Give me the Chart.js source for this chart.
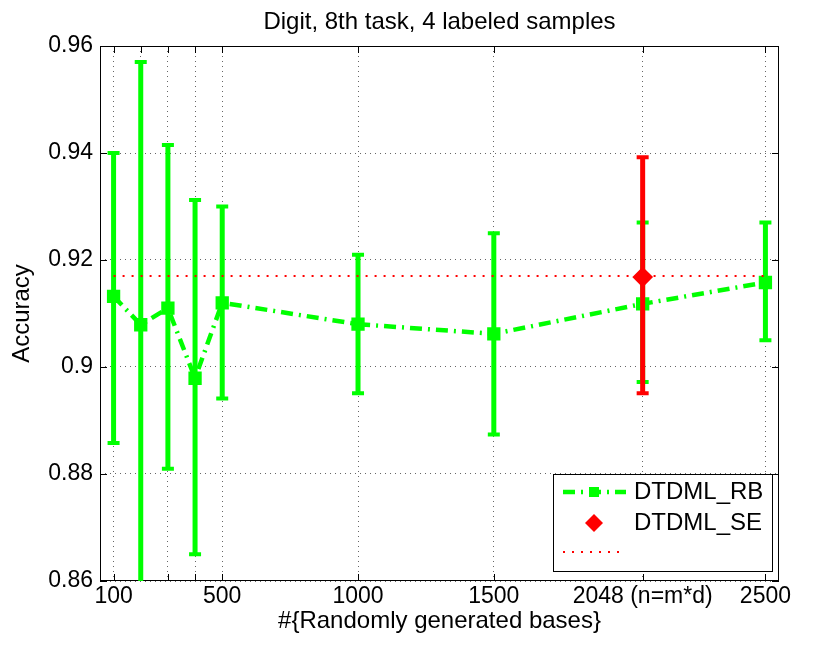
<!DOCTYPE html>
<html>
<head>
<meta charset="utf-8">
<title>Digit, 8th task, 4 labeled samples</title>
<script src="https://cdn.jsdelivr.net/npm/chart.js@4.4.0/dist/chart.umd.min.js"></script>
<style>
  html, body { margin: 0; padding: 0; background: #fff; }
  canvas { display: block; }
</style>
</head>
<body>
<canvas id="accChart" width="839" height="653"></canvas>
<script>
// values
const basesCount = [100, 200, 300, 400, 500, 1000, 1500, 2048, 2500];
const rbMean  = [0.9132, 0.9079, 0.9110, 0.8979, 0.9120, 0.9080, 0.9062, 0.9118, 0.9158];
const rbUpper = [0.9400, 0.9570, 0.9415, 0.9312, 0.9300, 0.9210, 0.9250, 0.9270, 0.9270];
const rbLower = [0.8858, 0.8590, 0.8810, 0.8650, 0.8941, 0.8951, 0.8874, 0.8972, 0.9050];

const seBases = [2048];
const seMean  = [0.9168];
const seUpper = [0.9392];
const seLower = [0.8951];

const refLevel = 0.917;

const xTickValues = [100, 200, 300, 400, 500, 1000, 1500, 2048, 2500];
const xTickLabels = ['100', '', '', '', '500', '1000', '1500', '2048 (n=m*d)', '2500'];
const yTickValues = [0.86, 0.88, 0.9, 0.92, 0.94, 0.96];
const yTickLabels = ['0.86', '0.88', '0.9', '0.92', '0.94', '0.96'];

Chart.defaults.font.family = '"Liberation Sans", Arial, Helvetica, sans-serif';
Chart.defaults.color = '#000';

// vertical error bars with caps, drawn just under their own dataset
const errorBars = {
  id: 'errorBars',
  beforeDatasetDraw(chart, args) {
    const ds = chart.data.datasets[args.index];
    if (!ds.errLow) return;
    const { ctx, chartArea, scales: { x, y } } = chart;
    ctx.save();
    ctx.beginPath();
    ctx.rect(chartArea.left, chartArea.top, chartArea.width, chartArea.height);
    ctx.clip();
    ctx.strokeStyle = ds.barColor;
    ds.data.forEach((p, i) => {
      const px = x.getPixelForValue(p.x);
      const top = y.getPixelForValue(ds.errHigh[i]);
      const bot = y.getPixelForValue(ds.errLow[i]);
      ctx.lineWidth = 5;
      ctx.beginPath();
      ctx.moveTo(px, top);
      ctx.lineTo(px, bot);
      ctx.stroke();
      ctx.lineWidth = 4;
      ctx.beginPath();
      ctx.moveTo(px - 6, top); ctx.lineTo(px + 6, top);
      ctx.moveTo(px - 6, bot); ctx.lineTo(px + 6, bot);
      ctx.stroke();
    });
    ctx.restore();
  }
};

// matlab style box with inward ticks
const axesBox = {
  id: 'axesBox',
  beforeDatasetsDraw(chart) {
    const { ctx, chartArea: a, scales: { x, y } } = chart;
    const len = 7;
    ctx.save();
    ctx.strokeStyle = '#000';
    ctx.lineWidth = 1;
    ctx.strokeRect(a.left + 0.5, a.top + 0.5, a.width - 1, a.height - 1);
    ctx.beginPath();
    x.ticks.forEach(t => {
      const px = Math.round(x.getPixelForValue(t.value)) + 0.5;
      ctx.moveTo(px, a.bottom); ctx.lineTo(px, a.bottom - len);
      ctx.moveTo(px, a.top); ctx.lineTo(px, a.top + len);
    });
    y.ticks.forEach(t => {
      const py = Math.round(y.getPixelForValue(t.value)) + 0.5;
      ctx.moveTo(a.left, py); ctx.lineTo(a.left + len, py);
      ctx.moveTo(a.right, py); ctx.lineTo(a.right - len, py);
    });
    ctx.stroke();
    ctx.restore();
  }
};

const boxLegend = {
  id: 'boxLegend',
  afterDraw(chart) {
    const { ctx, chartArea } = chart;
    const w = 219, h = 97;
    const left = chartArea.right - 7 - w;
    const top = chartArea.bottom - 10 - h;
    ctx.save();
    ctx.fillStyle = '#fff';
    ctx.fillRect(left, top, w, h);
    ctx.strokeStyle = '#000';
    ctx.lineWidth = 1;
    ctx.strokeRect(left + 0.5, top + 0.5, w, h);

    const x0 = left + 10, x1 = left + 73, xm = left + 41;
    const rows = [top + 18, top + 49, top + 78];

    // DTDML_RB
    ctx.strokeStyle = '#00ff00';
    ctx.lineWidth = 4.5;
    ctx.setLineDash([12, 6, 2, 6]);
    ctx.beginPath();
    ctx.moveTo(x0, rows[0]); ctx.lineTo(x1, rows[0]);
    ctx.stroke();
    ctx.setLineDash([]);
    ctx.fillStyle = '#00ff00';
    ctx.fillRect(xm - 5, rows[0] - 5, 10, 10);

    // DTDML_SE
    ctx.fillStyle = '#ff0000';
    ctx.beginPath();
    ctx.moveTo(xm - 9, rows[1]); ctx.lineTo(xm, rows[1] - 9);
    ctx.lineTo(xm + 9, rows[1]); ctx.lineTo(xm, rows[1] + 9);
    ctx.closePath();
    ctx.fill();

    // reference level
    ctx.strokeStyle = '#ff0000';
    ctx.lineWidth = 2;
    ctx.setLineDash([2, 7]);
    ctx.beginPath();
    ctx.moveTo(x0, rows[2]); ctx.lineTo(x1, rows[2]);
    ctx.stroke();
    ctx.setLineDash([]);

    ctx.fillStyle = '#000';
    ctx.font = '24px "Liberation Sans", Arial, Helvetica, sans-serif';
    ctx.textBaseline = 'middle';
    ctx.fillText('DTDML_RB', left + 81, rows[0]);
    ctx.fillText('DTDML_SE', left + 81, rows[1]);
    ctx.restore();
  }
};

const ctx = document.getElementById('accChart').getContext('2d');

const chart = new Chart(ctx, {
  type: 'line',
  data: {
    datasets: [
      {
        label: 'DTDML_SE',
        data: seBases.map((b, i) => ({ x: b, y: seMean[i] })),
        errLow: seLower,
        errHigh: seUpper,
        barColor: '#ff0000',
        showLine: false,
        pointStyle: 'rectRot',
        pointRadius: 9,
        pointBorderWidth: 2,
        borderColor: '#ff0000',
        backgroundColor: '#ff0000'
      },
      {
        label: '',
        data: [{ x: basesCount[0], y: refLevel }, { x: basesCount[basesCount.length - 1], y: refLevel }],
        borderColor: '#ff0000',
        borderWidth: 2,
        borderDash: [2, 7],
        pointRadius: 0
      },
      {
        label: 'DTDML_RB',
        data: basesCount.map((b, i) => ({ x: b, y: rbMean[i] })),
        errLow: rbLower,
        errHigh: rbUpper,
        barColor: '#00ff00',
        borderColor: '#00ff00',
        backgroundColor: '#00ff00',
        borderWidth: 4.5,
        borderDash: [12, 6, 2, 6],
        pointStyle: 'rect',
        pointRadius: 8,
        pointBorderWidth: 2,
        tension: 0
      }
    ]
  },
  options: {
    responsive: false,
    animation: false,
    layout: { padding: { left: 0, right: 60, top: 0, bottom: 0 } },
    plugins: {
      legend: { display: false },
      tooltip: { enabled: false },
      title: {
        display: true,
        fullSize: false,
        text: 'Digit, 8th task, 4 labeled samples',
        color: '#000',
        font: { size: 24, weight: 'normal' },
        padding: { top: 8, bottom: 9.2 }
      }
    },
    scales: {
      x: {
        type: 'linear',
        min: 50,
        max: 2550,
        afterBuildTicks: s => { s.ticks = xTickValues.map(v => ({ value: v })); },
        afterFit: s => { s.height = 72; },
        ticks: {
          autoSkip: false,
          maxRotation: 0,
          padding: 2,
          font: { size: 23 },
          callback: (v, i) => xTickLabels[i]
        },
        grid: { color: 'rgba(0,0,0,0.6)', lineWidth: 1, drawTicks: false },
        border: { display: false, dash: [1, 4] },
        title: {
          display: true,
          text: '#{Randomly generated bases}',
          font: { size: 24 },
          padding: { top: 0, bottom: 17 }
        }
      },
      y: {
        min: 0.86,
        max: 0.96,
        afterBuildTicks: s => { s.ticks = yTickValues.map(v => ({ value: v })); },
        afterFit: s => { s.width = 100; },
        ticks: {
          padding: 7,
          font: { size: 23 },
          callback: (v, i) => yTickLabels[i]
        },
        grid: { color: 'rgba(0,0,0,0.6)', lineWidth: 1, drawTicks: false },
        border: { display: false, dash: [1, 4] },
        title: {
          display: true,
          text: 'Accuracy',
          font: { size: 24 },
          padding: { top: 8, bottom: 0 }
        }
      }
    }
  },
  plugins: [errorBars, axesBox, boxLegend]
});
</script>
</body>
</html>
